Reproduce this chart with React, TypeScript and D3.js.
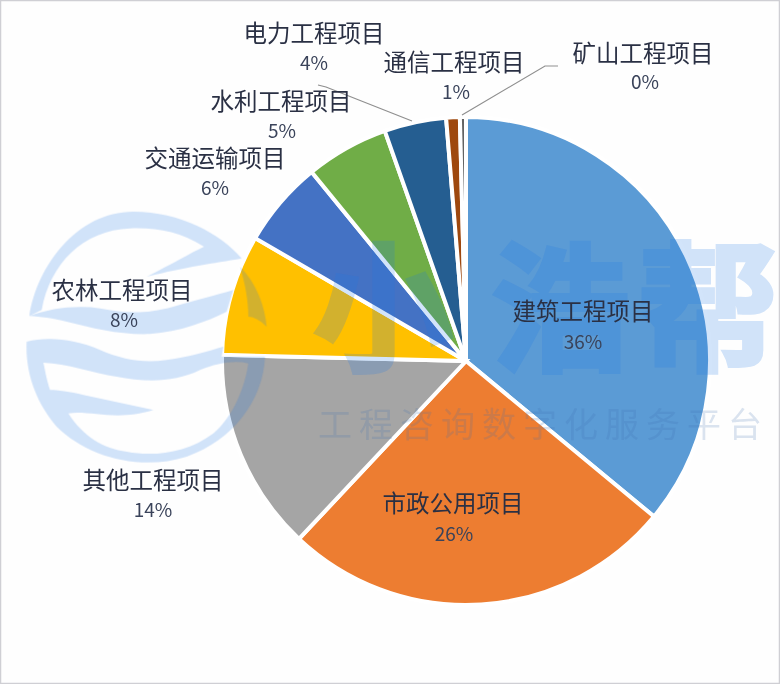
import React from 'react';
import * as d3 from 'd3';

const width = 780;
const height = 684;

// Slice values, clockwise from 12 o'clock
const categories = ['建筑工程项目', '市政公用项目', '其他工程项目', '农林工程项目', '交通运输项目', '水利工程项目', '电力工程项目', '通信工程项目', '矿山工程项目'];
const values = [36, 26, 13.4, 8, 5.7, 5.5, 4.1, 0.9, 0.4];
const percentLabels = ['36%', '26%', '14%', '8%', '6%', '5%', '4%', '1%', '0%'];
const colors = ['#5B9BD5', '#ED7D31', '#A5A5A5', '#FFC000', '#4472C4', '#70AD47', '#255E91', '#9E480E', '#636363'];

// Label layout, same order as categories: [x of name, y of name, x of percent, y of percent]
const labelLayout = [
  [583, 310, 583, 340],
  [453, 502, 454, 532],
  [153, 479, 153, 508],
  [122, 289, 124, 318],
  [215, 157, 215, 186],
  [281, 100, 282, 129],
  [314, 32, 314, 61],
  [454, 61, 456, 90],
  [643, 52, 645, 80],
];

const cx = 466;
const cy = 361;
const radius = 244;

// Leader lines of the two labels that need one
const leaders: [number, number][][] = [
  [[318, 85], [326, 87], [412, 121]],
  [[462, 115], [545, 66], [558, 66]],
];

// Watermark logo, traced in 3x crop coordinates
const logoPaths = [
  'M88 348 C110 200 230 35 400 35 C540 35 660 100 725 175 C640 190 560 200 440 230 C520 190 570 160 612 140 C540 95 470 82 390 85 C250 90 150 190 125 330 Z',
  'M88 348 C150 325 230 315 300 325 C370 338 430 345 520 320 C590 300 650 285 700 270 L680 335 C620 365 540 395 450 402 C360 405 280 385 200 365 C160 355 120 350 88 348 Z',
  'M80 425 C140 410 220 415 300 450 C370 480 430 490 500 480 C570 470 620 455 670 440 L665 470 L795 470 C790 600 700 720 560 770 C420 815 260 770 170 680 C110 610 75 520 80 425 Z',
  'M720 200 C770 250 795 320 800 380 C780 360 760 350 745 350 C745 300 735 250 720 200 Z',
];
const logoHoles = [
  'M130 488 C200 490 280 520 350 530 C430 545 520 550 600 510 C650 490 700 480 745 490 C735 560 700 650 640 700 C560 760 460 770 380 755 C310 745 250 710 205 640 C270 630 350 665 460 630 C390 615 320 600 250 585 C210 575 170 570 150 570 C140 540 135 510 130 488 Z',
];

// Big watermark characters with their centre x
const brandChars = ['小', '浩', '帮'];
const brandX = [383, 560, 708];

const pie = d3.pie<number>().sort(null).startAngle(0).endAngle(2 * Math.PI);
const arc = d3.arc<d3.PieArcDatum<number>>().innerRadius(0).outerRadius(radius);
const leaderLine = d3.line();

const cjk = '"Noto Sans CJK SC", "Noto Sans", sans-serif';

const App: React.FC = () => {
  const slices = pie(values);

  return (
    <svg
      width={width}
      height={height}
      viewBox={`0 0 ${width} ${height}`}
      style={{ position: 'absolute', left: 0, top: 0, background: '#fefefe' }}
    >
      <g transform={`translate(${cx},${cy})`}>
        {slices.map((d, i) => (
          <path key={categories[i]} d={arc(d) ?? ''} fill={colors[i]} stroke="#fff" strokeWidth={4} />
        ))}
      </g>

      {/* watermark sits over the pie */}
      <g opacity={0.2} fill="#1f78e6" fontFamily={cjk}>
        <g transform="translate(0,200) scale(0.3333)">
          <path d={logoPaths.join(' ') + ' ' + logoHoles.join(' ')} fillRule="evenodd" />
        </g>
        {brandChars.map((c, i) => (
          <text key={c} x={brandX[i]} y={360} fontSize={140} fontWeight={700} textAnchor="middle" stroke="#1f78e6" strokeWidth={4}>
            {c}
          </text>
        ))}
      </g>
      <text x={318} y={437} fontSize={34} letterSpacing={7} fill="#3f6fb0" opacity={0.19} fontFamily={cjk}>
        工程咨询数字化服务平台
      </text>

      {leaders.map((pts, i) => (
        <path key={i} d={leaderLine(pts) ?? ''} fill="none" stroke="#8f8f8f" strokeWidth={1.2} />
      ))}

      {categories.map((name, i) => {
        const [nx, ny, px, py] = labelLayout[i];
        return (
          <g key={name} textAnchor="middle" dominantBaseline="central" fontFamily={cjk}>
            <text x={nx} y={ny} fontSize={23.5} fill="#2a3044">{name}</text>
            <text x={px} y={py} fontSize={19} fill="#3a435a">{percentLabels[i]}</text>
          </g>
        );
      })}

      <rect x={0.5} y={0.5} width={width - 1} height={height - 1} fill="none" stroke="#cfcfd4" strokeWidth={1.5} />
    </svg>
  );
};

export default App;
